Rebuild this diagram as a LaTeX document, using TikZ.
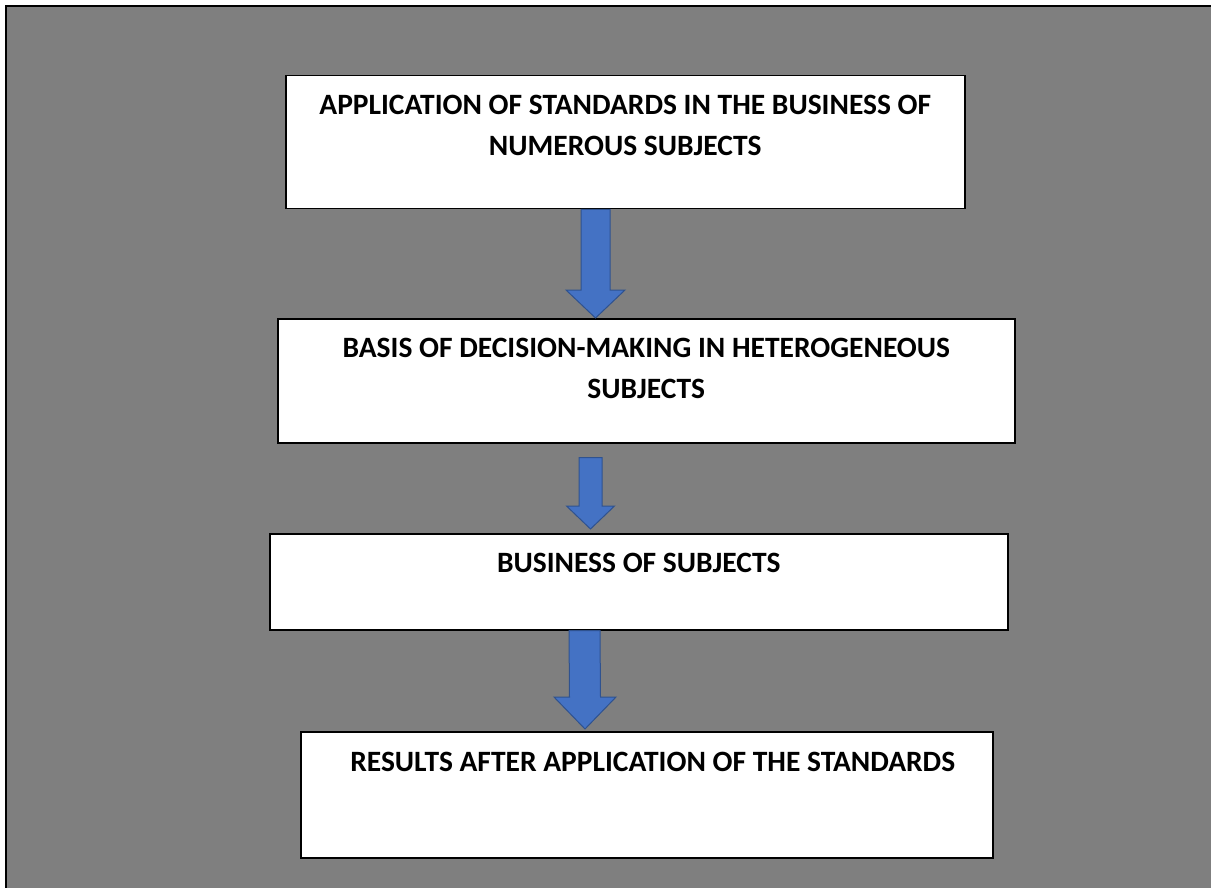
\documentclass[tikz,border=0pt]{standalone}
\usepackage{fontspec}
\setmainfont{Carlito}
\usetikzlibrary{positioning}

\definecolor{bggray}{HTML}{7F7F7F}
\definecolor{arrowblue}{HTML}{4472C4}
\definecolor{arrowedge}{HTML}{2F528F}

\tikzset{
  stepbox/.style={draw=black, line width=1.5pt, fill=white, anchor=north west, inner sep=0pt},
  boxtext/.style={font=\fontsize{29.5}{41}\selectfont\bfseries, align=center, inner sep=0pt},
  flowarrow/.style={fill=arrowblue, draw=arrowedge, line width=1pt, line join=miter},
}

% block arrow: top, tip, half shaft, half head, head length
\newcommand{\flowarrow}[5]{%
  \draw[flowarrow] ([xshift=-#3pt]#1) -- ([xshift=-#3pt, yshift=#5pt]#2)
    -- ([xshift=-#4pt, yshift=#5pt]#2) -- (#2)
    -- ([xshift=#4pt, yshift=#5pt]#2) -- ([xshift=#3pt, yshift=#5pt]#2)
    -- ([xshift=#3pt]#1) -- cycle;}

\begin{document}
\begin{tikzpicture}[x=1pt, y=-1pt]
  \useasboundingbox[fill=white] (0,0) rectangle (1211,888);
  % grey panel, cut at right and bottom
  \fill[bggray] (6,6.5) rectangle (1211,888);
  \draw[line width=2pt] (6,888) -- (6,6.5) -- (1211,6.5);

  % boxes
  \node[stepbox, minimum width=679pt, minimum height=133pt] (b1) at (285,75) {};
  \node[stepbox, minimum width=737pt, minimum height=124pt] (b2) at (277,318) {};
  \node[stepbox, minimum width=738pt, minimum height=96pt] (b3) at (269,533) {};
  \node[stepbox, minimum width=692pt, minimum height=126pt] (b4) at (300,731) {};

  \node[boxtext, below=19.5pt of b1.north] (t1) {APPLICATION OF STANDARDS IN THE BUSINESS OF\\NUMEROUS SUBJECTS};
  \node[boxtext, below=19.5pt of b2.north] (t2) {BASIS OF DECISION-MAKING IN HETEROGENEOUS\\SUBJECTS};
  \node[boxtext, below=19.5pt of b3.north] (t3) {BUSINESS OF SUBJECTS};
  \node[boxtext, below=20.5pt of b4.north, xshift=6pt] (t4) {RESULTS AFTER APPLICATION OF THE STANDARDS};

  % arrow ends
  \coordinate (a1top) at (595.5,0 |- b1.south);
  \coordinate (a1tip) at (595.5,0 |- b2.north);
  \path (590.5,0 |- b2.south) ++(0,14) coordinate (a2top);
  \path (590.5,0 |- b3.north) ++(0,-4) coordinate (a2tip);
  \coordinate (a3top) at (584.5,0 |- b3.south);
  \path (585,0 |- b4.north) ++(0,-2) coordinate (a3tip);

  \flowarrow{a1top}{a1tip}{14.5}{29.5}{28}
  \flowarrow{a2top}{a2tip}{11.5}{24}{23}
  \flowarrow{a3top}{a3tip}{15.5}{31}{32}
\end{tikzpicture}
\end{document}
